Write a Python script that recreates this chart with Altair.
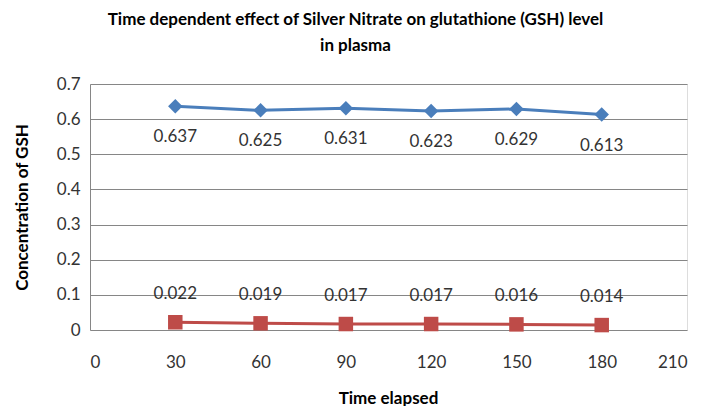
import altair as alt
import pandas as pd

times = [30, 60, 90, 120, 150, 180]
series_a = [0.637, 0.625, 0.631, 0.623, 0.629, 0.613]
series_b = [0.022, 0.019, 0.017, 0.017, 0.016, 0.014]
labels_a = ["0.637", "0.625", "0.631", "0.623", "0.629", "0.613"]
labels_b = ["0.022", "0.019", "0.017", "0.017", "0.016", "0.014"]
x_ticks = [0, 30, 60, 90, 120, 150, 180, 210]
y_ticks = [0, 0.1, 0.2, 0.3, 0.4, 0.5, 0.6, 0.7]

rows = []
for t, v, l in zip(times, series_a, labels_a):
    rows.append({"time": t, "value": v, "label": l, "series": "A"})
for t, v, l in zip(times, series_b, labels_b):
    rows.append({"time": t, "value": v, "label": l, "series": "B"})
df = pd.DataFrame(rows)

FONT = "Lato"
color_scale = alt.Scale(domain=["A", "B"], range=["#4A7EBB", "#BE4B48"])
shape_scale = alt.Scale(domain=["A", "B"], range=["diamond", "square"])

x = alt.X("time:Q",
          scale=alt.Scale(domain=[0, 210], nice=False, zero=True),
          axis=alt.Axis(values=x_ticks, title="Time elapsed", grid=False, domain=False,
                        ticks=False, labelPadding=24, labelFontSize=17, labelFont=FONT,
                        labelColor="#333333", labelOverlap=False, titleFont=FONT, titleFontSize=17,
                        titleFontWeight="bold", titleColor="#000000",
                        titleX=298, titleY=68, titleBaseline="middle"))
y = alt.Y("value:Q",
          scale=alt.Scale(domain=[0, 0.7], nice=False),
          axis=alt.Axis(values=y_ticks, tickCount=8, title="Concentration of GSH", grid=True,
                        gridColor="#868686", gridWidth=1, domain=True, domainColor="#868686",
                        ticks=False, labelPadding=10, labelFontSize=17, labelFont=FONT,
                        labelColor="#333333", labelOverlap=False, format="~g",
                        titleFont=FONT, titleFontSize=17,
                        titleFontWeight="bold", titleColor="#000000", titleAngle=270,
                        titleX=-68, titleY=123, titleBaseline="middle", titleAlign="center"))

base = alt.Chart(df)

lines = base.mark_line(strokeWidth=3).encode(
    x=x, y=y,
    color=alt.Color("series:N", scale=color_scale, legend=None),
    detail="series:N",
)
points = base.mark_point(filled=True, opacity=1, size=210).encode(
    x="time:Q", y="value:Q",
    color=alt.Color("series:N", scale=color_scale, legend=None),
    shape=alt.Shape("series:N", scale=shape_scale, legend=None),
)
text_a = base.transform_filter(alt.datum.series == "A").mark_text(
    dy=31, fontSize=17, font=FONT, color="#333333"
).encode(x="time:Q", y="value:Q", text="label:N")
text_b = base.transform_filter(alt.datum.series == "B").mark_text(
    dy=-28, fontSize=17, font=FONT, color="#333333"
).encode(x="time:Q", y="value:Q", text="label:N")

chart = alt.layer(lines, points, text_a, text_b).properties(
    width=597, height=246,
    title=alt.TitleParams(
        text=["Time dependent effect of Silver Nitrate on glutathione (GSH) level", "in plasma"],
        font=FONT, fontSize=17, fontWeight="bold", color="#000000",
        anchor="middle", dx=-33, offset=20, lineHeight=26,
    ),
    autosize=alt.AutoSizeParams(type="none"),
    padding={"left": 82, "top": 76, "right": 9, "bottom": 76},
).configure_view(stroke=None).configure(background="white")

chart.save("out.html", embed_options={"renderer": "svg", "actions": False})
